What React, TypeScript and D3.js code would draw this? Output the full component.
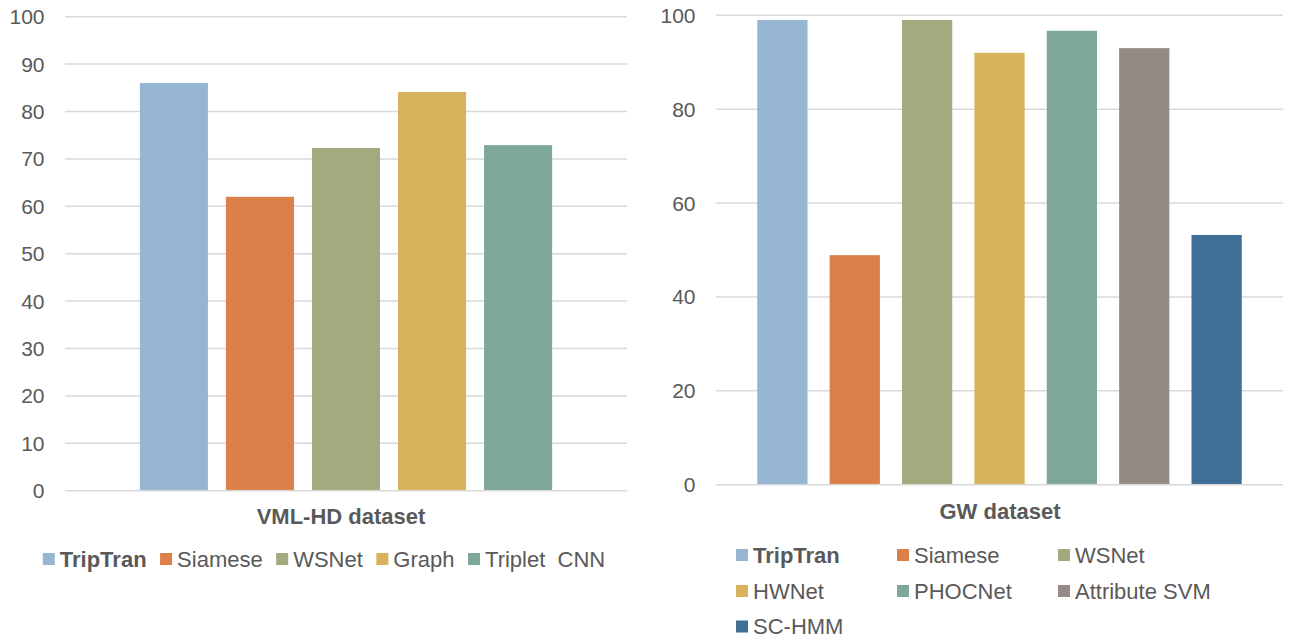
import React, { useEffect, useRef } from 'react';
import * as d3 from 'd3';

const leftCategories = ['TripTran', 'Siamese', 'WSNet', 'Graph', 'Triplet  CNN'];
const leftValues = [86.0, 62.0, 72.3, 84.1, 72.9];
const leftColors = ['#95b5d3', '#dd7f48', '#a4aa7e', '#d8b15d', '#7da79b'];
const leftTicks = [0, 10, 20, 30, 40, 50, 60, 70, 80, 90, 100];
const leftTitle = 'VML-HD dataset';

const rightCategories = ['TripTran', 'Siamese', 'WSNet', 'HWNet', 'PHOCNet', 'Attribute SVM', 'SC-HMM'];
const rightValues = [99.0, 48.9, 99.0, 92.0, 96.7, 93.0, 53.2];
const rightColors = ['#95b5d3', '#dd7f48', '#a4aa7e', '#d8b15d', '#7da79b', '#968a87', '#3f6e96'];
const rightTicks = [0, 20, 40, 60, 80, 100];
const rightTitle = 'GW dataset';

const boldCategory = 'TripTran';
const TEXT = '#595959';
const GRID = '#d9d9d9';
const FONT = '"Liberation Sans", Arial, sans-serif';

type Panel = {
  categories: string[];
  values: number[];
  colors: string[];
  ticks: number[];
  title: string;
  xRange: [number, number];
  yRange: [number, number];
  padInner: number;
  padOuter: number;
  tickX: number;
  titleX: number;
  titleY: number;
};

function addText(g: any, x: number, y: number, str: string, opts: { anchor?: string; bold?: boolean; size?: number }) {
  return g
    .append('text')
    .attr('x', x)
    .attr('y', y)
    .attr('text-anchor', opts.anchor ?? 'start')
    .attr('dominant-baseline', 'central')
    .attr('fill', TEXT)
    .attr('font-family', FONT)
    .attr('font-size', opts.size ?? 22)
    .attr('font-weight', opts.bold ? 'bold' : 'normal')
    .style('white-space', 'pre')
    .text(str);
}

function drawPanel(svg: any, p: Panel) {
  const g = svg.append('g');
  const y = d3.scaleLinear().domain([0, 100]).range(p.yRange);
  const x = d3
    .scaleBand<string>()
    .domain(p.categories)
    .range(p.xRange)
    .paddingInner(p.padInner)
    .paddingOuter(p.padOuter);

  g.selectAll('line.grid')
    .data(p.ticks)
    .enter()
    .append('line')
    .attr('x1', p.xRange[0])
    .attr('x2', p.xRange[1])
    .attr('y1', (d: number) => y(d))
    .attr('y2', (d: number) => y(d))
    .attr('stroke', GRID)
    .attr('stroke-width', 1.5);

  p.ticks.forEach((t) => addText(g, p.tickX, y(t), String(t), { anchor: 'end', size: 21 }));

  g.selectAll('rect.bar')
    .data(p.categories)
    .enter()
    .append('rect')
    .attr('x', (d: string) => x(d)!)
    .attr('width', x.bandwidth())
    .attr('y', (_d: string, i: number) => y(p.values[i]))
    .attr('height', (_d: string, i: number) => y(0) - y(p.values[i]) - 0.75)
    .attr('fill', (_d: string, i: number) => p.colors[i]);

  addText(g, p.titleX, p.titleY, p.title, { anchor: 'middle', bold: true, size: 22 });
  return g;
}

export default function App() {
  const ref = useRef<SVGSVGElement>(null);
  useEffect(() => {
    const svg = d3.select(ref.current);
    svg.selectAll('*').remove();
    svg.append('rect').attr('width', 1290).attr('height', 636).attr('fill', '#fff');

    drawPanel(svg, {
      categories: leftCategories,
      values: leftValues,
      colors: leftColors,
      ticks: leftTicks,
      title: leftTitle,
      xRange: [65, 627],
      yRange: [490.7, 16.7],
      padInner: 0.209,
      padOuter: 0.87,
      tickX: 44.5,
      titleX: 341,
      titleY: 516.5,
    });
    drawPanel(svg, {
      categories: rightCategories,
      values: rightValues,
      colors: rightColors,
      ticks: rightTicks,
      title: rightTitle,
      xRange: [716, 1283],
      yRange: [484.7, 15.3],
      padInner: 0.3056,
      padOuter: 0.57,
      tickX: 695.5,
      titleX: 1000,
      titleY: 511,
    });

    // Left legend: single row flow, centered
    const lg = svg.append('g');
    const items: { g: any; w: number }[] = [];
    leftCategories.forEach((c, i) => {
      const ig = lg.append('g');
      ig.append('rect').attr('x', 0).attr('y', -6).attr('width', 12).attr('height', 12).attr('fill', leftColors[i]);
      const t = addText(ig, 17, 0, c, { bold: c === boldCategory, size: 22 });
      const w = 17 + (t.node() as SVGTextElement).getComputedTextLength();
      items.push({ g: ig, w });
    });
    const gap = 13.5;
    const total = items.reduce((s, it) => s + it.w, 0) + gap * (items.length - 1);
    let cx = 324 - total / 2;
    items.forEach((it) => {
      it.g.attr('transform', `translate(${cx},559)`);
      cx += it.w + gap;
    });

    // Right legend: 3 columns grid
    const rg = svg.append('g');
    const colX = [736, 897, 1058];
    const rowY = [555, 591, 626.5];
    rightCategories.forEach((c, i) => {
      const col = i % 3;
      const row = Math.floor(i / 3);
      const ig = rg.append('g').attr('transform', `translate(${colX[col]},${rowY[row]})`);
      ig.append('rect').attr('x', 0).attr('y', -6).attr('width', 12).attr('height', 12).attr('fill', rightColors[i]);
      addText(ig, 17, 0, c, { bold: c === boldCategory, size: 22 });
    });
  }, []);

  return (
    <svg
      ref={ref}
      width={1290}
      height={636}
      style={{ position: 'absolute', left: 0, top: 0, display: 'block' }}
    />
  );
}
